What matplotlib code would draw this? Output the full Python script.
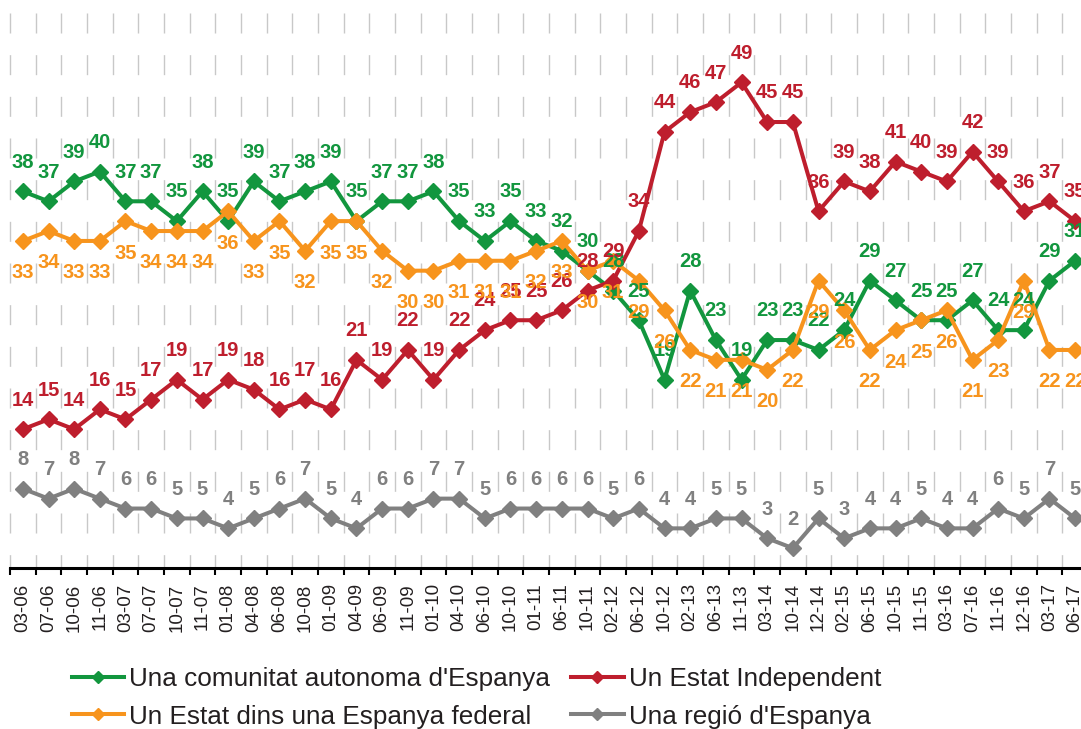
import matplotlib
matplotlib.use("Agg")
from matplotlib import pyplot as plt

plt.rcParams['font.family'] = ['Liberation Sans', 'DejaVu Sans']

periodes = ["03-06", "07-06", "10-06", "11-06", "03-07", "07-07", "10-07", "11-07",
            "01-08", "04-08", "06-08", "10-08", "01-09", "04-09", "06-09", "11-09",
            "01-10", "04-10", "06-10", "10-10", "01-11", "06-11", "10-11", "02-12",
            "06-12", "10-12", "02-13", "06-13", "11-13", "03-14", "10-14", "12-14",
            "02-15", "06-15", "10-15", "11-15", "03-16", "07-16", "11-16", "12-16",
            "03-17", "06-17"]

comunitat = [38, 37, 39, 40, 37, 37, 35, 38, 35, 39, 37, 38, 39, 35, 37, 37, 38, 35, 33, 35, 33,
             32, 30, 28, 25, 19, 28, 23, 19, 23, 23, 22, 24, 29, 27, 25, 25, 27, 24, 24, 29, 31]
independent = [14, 15, 14, 16, 15, 17, 19, 17, 19, 18, 16, 17, 16, 21, 19, 22, 19, 22, 24, 25, 25,
               26, 28, 29, 34, 44, 46, 47, 49, 45, 45, 36, 39, 38, 41, 40, 39, 42, 39, 36, 37, 35]
federal = [33, 34, 33, 33, 35, 34, 34, 34, 36, 33, 35, 32, 35, 35, 32, 30, 30, 31, 31, 31, 32,
           33, 30, 31, 29, 26, 22, 21, 21, 20, 22, 29, 26, 22, 24, 25, 26, 21, 23, 29, 22, 22]
regio = [8, 7, 8, 7, 6, 6, 5, 5, 4, 5, 6, 7, 5, 4, 6, 6, 7, 7, 5, 6, 6,
         6, 6, 5, 6, 4, 4, 5, 5, 3, 2, 5, 3, 4, 4, 5, 4, 4, 6, 5, 7, 5]

series = [
    (comunitat, "Una comunitat autonoma d'Espanya", "#12963e", "above"),
    (independent, "Un Estat Independent", "#be1e2d", "above"),
    (federal, "Un Estat dins una Espanya federal", "#f7941d", "below"),
    (regio, "Una regió d'Espanya", "#808080", "above"),
]

fig = plt.figure(figsize=(10.81, 7.29), dpi=100)
ax = fig.add_axes([10 / 1081, 161 / 729, 1078 / 1081, 555 / 729])

x = list(range(len(periodes)))

# dashed vertical grid between the categories, dashes starting at the top
for b in range(len(periodes) + 1):
    ax.plot([b - 0.5, b - 0.5], [1, 0], transform=ax.get_xaxis_transform(),
            color="#c8c8c8", lw=1.0, ls=(0, (14.4, 15.6)), zorder=1, clip_on=False)

handles = []
for vals, name, col, pos in series:
    ln, = ax.plot(x, vals, color=col, lw=2.9, marker="D", ms=8.5, label=name, zorder=3)
    handles.append(ln)
    dy = 21 if pos == "above" else -23
    for xi, v in zip(x, vals):
        ax.annotate(str(v), (xi, v), xytext=(0, dy), textcoords="offset points",
                    ha="center", va="center", color=col, fontsize=14.5,
                    fontweight="bold", zorder=5)

ax.set_xlim(-0.5, len(periodes) - 0.5)
ax.set_ylim(0, 56)
ax.set_yticks([])
ax.set_xticks(x)
ax.set_xticklabels(periodes, rotation=90, fontsize=13.5, color="#231f20")
ax.tick_params(axis="x", which="major", length=0, pad=11)
ax.set_xticks([b - 0.5 for b in range(len(periodes) + 1)], minor=True)
ax.tick_params(axis="x", which="minor", length=5, width=1.5, direction="out", color="black")
for s in ["left", "right", "top"]:
    ax.spines[s].set_visible(False)
ax.spines["bottom"].set_linewidth(2.2)
ax.spines["bottom"].set_color("black")

order = [0, 2, 1, 3]
fig.legend(handles=[handles[i] for i in order], loc="upper left",
           bbox_to_anchor=(72 / 1081, 1 - 667 / 729), ncol=2, frameon=False,
           fontsize=18.8, handlelength=2.0, handletextpad=0.2, columnspacing=0.8,
           labelspacing=0.52, borderpad=0, borderaxespad=0, markerscale=0.75,
           labelcolor="#231f20")

fig.savefig("out.png", dpi=100)
plt.close(fig)
